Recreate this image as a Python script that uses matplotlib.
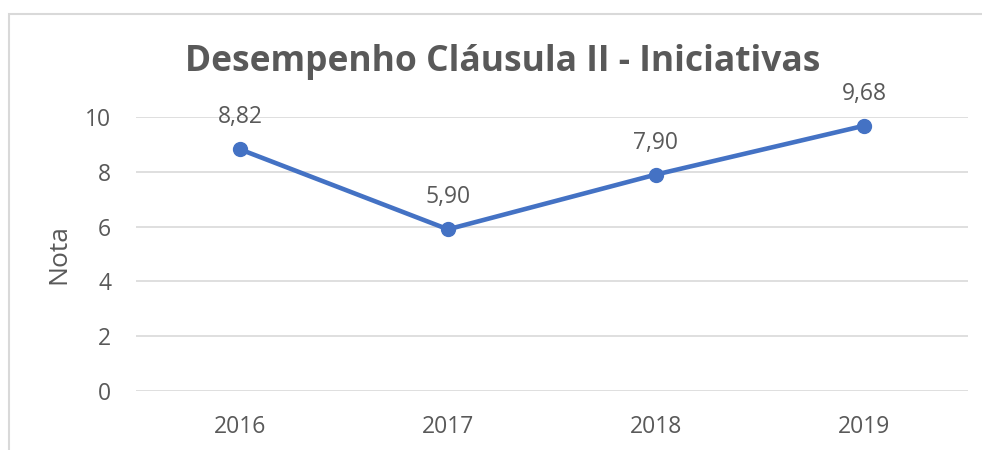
import matplotlib.pyplot as plt
from matplotlib.patches import Rectangle

anos = ["2016", "2017", "2018", "2019"]
notas = [8.82, 5.90, 7.90, 9.68]
rotulos = ["8,82", "5,90", "7,90", "9,68"]

plt.rcParams['font.family'] = ['Open Sans', 'DejaVu Sans']
cinza = '#595959'
azul = '#4472C4'

fig = plt.figure(figsize=(9.82, 4.5), dpi=100)
ax = fig.add_axes([0.1385, 0.1311, 0.8472, 0.6089])

# moldura do grafico (estilo Excel)
topo = 1 - 14 / 450
fig.patches.append(Rectangle((8.5 / 982, -0.2), 1.2, topo + 0.2,
                             transform=fig.transFigure, fill=False,
                             edgecolor='#D9D9D9', linewidth=1.5))

x = [i + 0.5 for i in range(len(anos))]
ax.plot(x, notas, color=azul, linewidth=3.3, marker='o', markersize=10,
        clip_on=False, zorder=3)

for xi, yi, txt in zip(x, notas, rotulos):
    ax.annotate(txt, (xi, yi), xytext=(0, 23), textcoords='offset points',
                ha='center', va='center', fontsize=16.5, color=cinza)

ax.set_xlim(0, 4)
ax.set_ylim(0, 10)
ax.set_xticks(x)
ax.set_xticklabels(anos)
ax.set_yticks(range(0, 11, 2))
ax.tick_params(axis='both', length=0, labelsize=16.5, labelcolor=cinza)
ax.tick_params(axis='y', pad=18)
ax.tick_params(axis='x', pad=17)
ax.grid(axis='y', color='#D9D9D9', linewidth=1.2)
ax.set_axisbelow(True)
for s in ax.spines.values():
    s.set_visible(False)

ax.set_ylabel('Nota', fontsize=19, color=cinza, labelpad=10)

fig.text(0.512, 1 - 62 / 450, 'Desempenho Cláusula II - Iniciativas',
         ha='center', va='center', fontsize=25.5, fontweight='bold', color=cinza)

fig.savefig('out.png', dpi=100)
